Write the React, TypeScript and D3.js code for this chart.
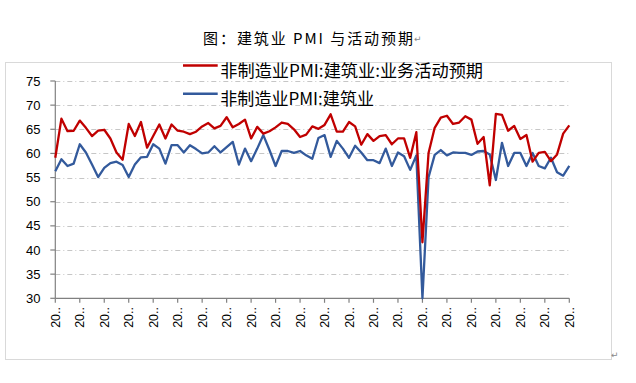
import React from "react";
import * as d3 from "d3";

const title = "图：建筑业 PMI 与活动预期";
const seriesNames = ["非制造业PMI:建筑业:业务活动预期", "非制造业PMI:建筑业"];
const seriesColors = ["#C00000", "#335A9C"];

const expectation = [
  59.1, 67.2, 64.6, 64.7, 66.8, 65.3, 63.6, 64.7, 64.9, 63.1, 60.2, 58.7,
  66.1, 63.6, 66.5, 61.2, 63.6, 66.0, 63.1, 66.0, 64.7, 64.5, 64.0, 64.5,
  65.6, 66.3, 65.2, 65.7, 67.5, 65.4, 66.1, 67.0, 63.1, 65.5, 64.1, 64.6,
  65.4, 66.4, 66.1, 65.0, 63.4, 63.9, 65.6, 65.1, 65.9, 68.1, 64.5, 64.5,
  66.5, 65.6, 61.8, 64.0, 62.6, 63.6, 63.8, 61.9, 63.1, 63.1, 59.1, 64.4,
  41.6, 60.1, 65.3, 67.4, 67.8, 66.1, 66.4, 67.7, 67.0, 62.0, 63.4, 53.4,
  68.2, 68.0, 64.7, 65.7, 63.0, 63.8, 58.3, 60.1, 60.3, 58.4, 59.8, 64.1,
  65.8,
];

const construction = [
  56.3, 58.8, 57.4, 57.9, 61.9, 60.2, 57.7, 55.1, 57.0, 58.0, 58.3, 57.6,
  55.1, 57.7, 59.2, 59.3, 61.9, 61.0, 57.9, 61.7, 61.7, 60.2, 61.7, 60.9,
  60.0, 60.2, 61.5, 60.2, 61.3, 62.4, 57.7, 61.0, 58.4, 61.0, 63.8, 60.7,
  57.4, 60.5, 60.5, 60.1, 60.5, 59.6, 58.9, 63.2, 63.8, 59.3, 62.6, 61.0,
  59.1, 61.6, 60.2, 58.6, 58.6, 58.0, 61.0, 57.4, 60.2, 59.4, 56.6, 59.6,
  30.0, 55.1, 59.7, 60.7, 59.6, 60.2, 60.1, 60.1, 59.7, 60.4, 60.5, 59.8,
  54.5, 62.2, 57.4, 60.1, 60.1, 57.4, 60.1, 57.4, 56.9, 59.1, 56.1, 55.4,
  57.4,
];

const yTicks = [30, 35, 40, 45, 50, 55, 60, 65, 70, 75];
const xTickLabel = "20..";
const xTickEvery = 4;

export default function App() {
  const W = 636;
  const H = 383;
  const left = 55.3;
  const right = 569.3;
  const top = 81;
  const bottom = 298.3;
  const n = expectation.length;

  const x = d3.scaleLinear().domain([0, n - 1]).range([left, right]);
  const y = d3.scaleLinear().domain([30, 75]).range([bottom, top]);

  const line = d3
    .line<number>()
    .x((_, i) => x(i))
    .y((d) => y(d));

  const xTicks = d3.range(0, n, xTickEvery);

  const numFont = "'Liberation Sans', Arial, sans-serif";
  const cjkFont = "'Noto Sans CJK SC', 'Noto Sans', sans-serif";

  return (
    <svg
      width={W}
      height={H}
      style={{ position: "absolute", left: 0, top: 0, background: "#fff" }}
    >
      <rect x={0} y={0} width={W} height={H} fill="#fff" />
      {/* title */}
      <text
        x={203}
        y={37}
        fontFamily={cjkFont}
        fontSize={15}
        dominantBaseline="central"
        fill="#000"
        textLength={210}
        lengthAdjust="spacing"
      >
        {title}
      </text>
      <text x={414} y={39} fontFamily="'DejaVu Sans'" fontSize={9} fill="#888" dominantBaseline="central">
        ↵
      </text>

      {/* frame */}
      <rect x={5.5} y={62.5} width={606} height={297} fill="none" stroke="#d9d9d9" strokeWidth={1} />
      <text x={611} y={355} fontFamily="'DejaVu Sans'" fontSize={9} fill="#888" dominantBaseline="central">
        ↵
      </text>

      {/* gridlines */}
      {yTicks
        .filter((t) => t !== 30)
        .map((t) => (
          <line
            key={"g" + t}
            x1={left}
            x2={right}
            y1={Math.round(y(t)) + 0.5}
            y2={Math.round(y(t)) + 0.5}
            stroke="#c6c6c6"
            strokeWidth={1}
            strokeDasharray="5,3,1,3"
          />
        ))}

      {/* y axis */}
      <line x1={left} x2={left} y1={top} y2={bottom} stroke="#808080" strokeWidth={1.2} />
      {yTicks.map((t) => (
        <g key={"y" + t}>
          <line x1={left - 5} x2={left} y1={y(t)} y2={y(t)} stroke="#808080" strokeWidth={1.2} />
          <text
            x={40.5}
            y={y(t)}
            textAnchor="end"
            dominantBaseline="central"
            fontFamily={numFont}
            fontSize={13}
            fill="#000"
          >
            {t}
          </text>
        </g>
      ))}

      {/* x axis */}
      <line x1={left} x2={right} y1={bottom} y2={bottom} stroke="#808080" strokeWidth={1.2} />
      {xTicks.map((i) => (
        <g key={"x" + i}>
          <line x1={x(i)} x2={x(i)} y1={bottom} y2={bottom + 4.5} stroke="#808080" strokeWidth={1.2} />
          <text
            transform={`translate(${x(i) + 0.5},${307}) rotate(-90)`}
            textAnchor="end"
            dominantBaseline="central"
            fontFamily={numFont}
            fontSize={12.5}
            fill="#000"
          >
            {xTickLabel}
          </text>
        </g>
      ))}

      {/* series */}
      <path d={line(construction) || ""} fill="none" stroke={seriesColors[1]} strokeWidth={2.3} strokeLinejoin="round" />
      <path d={line(expectation) || ""} fill="none" stroke={seriesColors[0]} strokeWidth={2.3} strokeLinejoin="round" />

      {/* legend */}
      <line x1={183} x2={217.7} y1={65.5} y2={65.5} stroke={seriesColors[0]} strokeWidth={2.5} />
      <text
        x={220.3}
        y={69}
        dominantBaseline="central"
        fontFamily={cjkFont}
        fontSize={17}
        fill="#000"
        textLength={262.7}
        lengthAdjust="spacingAndGlyphs"
      >
        {seriesNames[0]}
      </text>
      <line x1={183} x2={217.7} y1={93.7} y2={93.7} stroke={seriesColors[1]} strokeWidth={2.5} />
      <text
        x={220.3}
        y={97}
        dominantBaseline="central"
        fontFamily={cjkFont}
        fontSize={17}
        fill="#000"
        textLength={153.7}
        lengthAdjust="spacingAndGlyphs"
      >
        {seriesNames[1]}
      </text>
    </svg>
  );
}
